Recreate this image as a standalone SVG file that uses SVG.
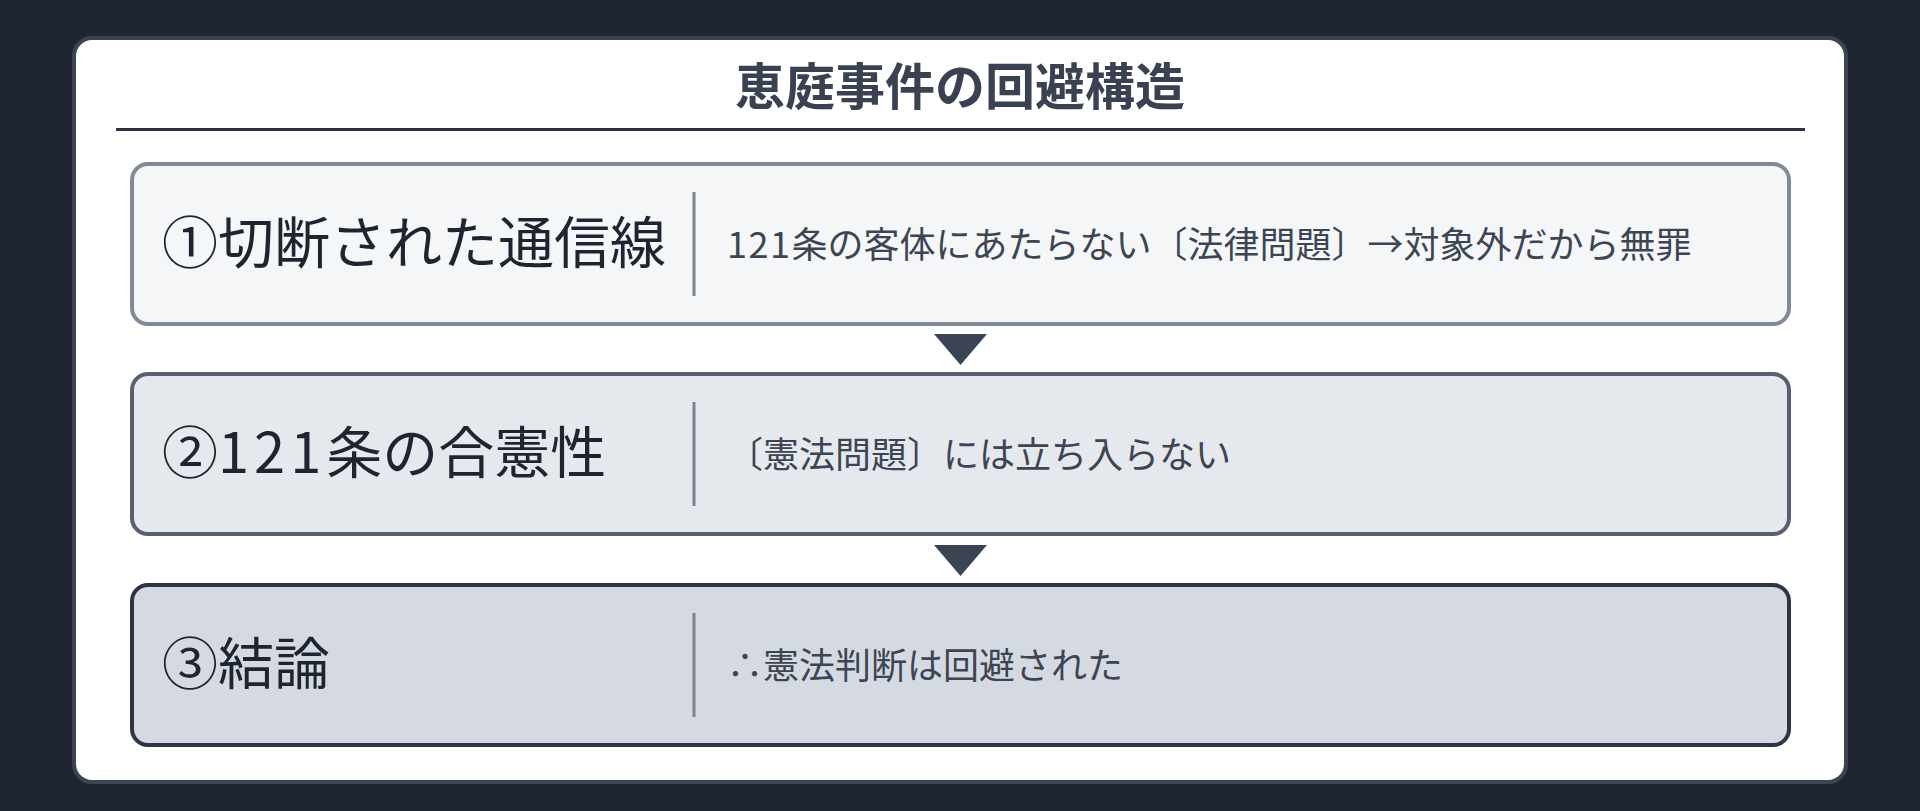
<svg xmlns="http://www.w3.org/2000/svg" width="1920" height="811" viewBox="0 0 1920 811">
<style>
.title{font-family:"Noto Sans CJK JP","Noto Sans",sans-serif;font-size:50px;font-weight:700;fill:#3a4252}
.label{font-family:"Noto Sans CJK JP","Noto Sans",sans-serif;font-size:56px;fill:#1f2530}
.desc{font-family:"Noto Sans CJK JP","Noto Sans",sans-serif;font-size:36px;fill:#3d4553}
.div{stroke:#7b8494;stroke-width:3}
.arrow{fill:#3a4453}
</style>
<rect width="1920" height="811" fill="#1f2630"/>
<rect x="74" y="38" width="1772" height="744" rx="18" fill="#ffffff" stroke="#3a4453" stroke-width="4"/>
<g id="title">
<text class="title" x="960" y="83" text-anchor="middle" dominant-baseline="central">恵庭事件の回避構造</text>
<line x1="116" y1="129.5" x2="1805" y2="129.5" stroke="#2d3340" stroke-width="3"/>
</g>
<g id="node1">
<rect x="132" y="164" width="1657" height="160" rx="16" fill="#f4f6f8" stroke="#818a98" stroke-width="4"/>
<line class="div" x1="694" y1="192" x2="694" y2="296"/>
<text class="label" x="162" y="238" dominant-baseline="central">①切断された通信線</text>
<text class="desc" x="727" y="242" dominant-baseline="central"><tspan letter-spacing="1.5">121</tspan>条の客体にあたらない〔法律問題〕→対象外だから無罪</text>
</g>
<g id="node2">
<rect x="132" y="374" width="1657" height="160" rx="16" fill="#e5e8ed" stroke="#566070" stroke-width="4"/>
<line class="div" x1="694" y1="402" x2="694" y2="506"/>
<text class="label" x="162" y="448" dominant-baseline="central">②<tspan letter-spacing="5">121</tspan>条の合憲性</text>
<text class="desc" x="727" y="452" dominant-baseline="central">〔憲法問題〕には立ち入らない</text>
</g>
<g id="node3">
<rect x="132" y="585" width="1657" height="160" rx="16" fill="#d5dae2" stroke="#2d3542" stroke-width="4"/>
<line class="div" x1="694" y1="613" x2="694" y2="717"/>
<text class="label" x="162" y="659" dominant-baseline="central">③結論</text>
<text class="desc" x="727" y="663" dominant-baseline="central">∴憲法判断は回避された</text>
</g>
<g id="connectors">
<polygon class="arrow" points="934,334 987,334 960.5,365"/>
<polygon class="arrow" points="934,545 987,545 960.5,576"/>
</g>
</svg>
